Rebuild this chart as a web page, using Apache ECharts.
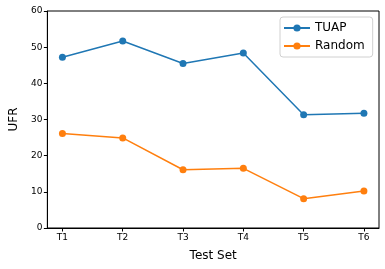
<!DOCTYPE html>
<html>
<head>
<meta charset="utf-8">
<script src="https://cdn.jsdelivr.net/npm/echarts@6/dist/echarts.min.js"></script>
<style>html,body{margin:0;padding:0;background:#fff;}#c{width:385px;height:269px;}</style>
</head>
<body>
<div id="c"></div>
<script>
const categories = ['T1', 'T2', 'T3', 'T4', 'T5', 'T6'];
const tuap = [47.2, 51.7, 45.5, 48.4, 31.3, 31.7];
const random = [26.1, 24.9, 16.1, 16.5, 8.1, 10.2];
const yTicks = [0, 10, 20, 30, 40, 50, 60];

const idx = categories.map((c, i) => i);
const toPairs = vals => vals.map((v, i) => [i, v]);
const font = 'DejaVu Sans';

const chart = echarts.init(document.getElementById('c'), null, {renderer: 'canvas'});
chart.setOption({
  animation: false,
  backgroundColor: '#fff',
  textStyle: {fontFamily: font},
  grid: {left: 44, right: 6, top: 11, bottom: 41, show: true, borderColor: '#000', borderWidth: 1, backgroundColor: 'transparent'},
  legend: {
    orient: 'vertical', left: 280, top: 17,
    itemWidth: 26, itemHeight: 9, itemGap: 6,
    padding: [5, 8, 5, 3],
    borderColor: '#d0d0d0', borderWidth: 1, borderRadius: 3,
    backgroundColor: '#fff',
    textStyle: {fontFamily: font, fontSize: 12, color: '#000'},
    data: ['TUAP', 'Random']
  },
  xAxis: {
    type: 'value', min: -0.25, max: 5.25,
    name: 'Test Set', nameLocation: 'middle', nameGap: 22,
    nameTextStyle: {fontFamily: font, fontSize: 12, color: '#000'},
    axisLine: {show: true, onZero: false, lineStyle: {color: '#000', width: 1}},
    axisTick: {show: true, customValues: idx, length: 3.5, lineStyle: {color: '#000'}},
    axisLabel: {customValues: idx, formatter: v => categories[Math.round(v)], fontFamily: font, fontSize: 9, color: '#000', margin: 5},
    splitLine: {show: false}
  },
  yAxis: {
    type: 'value', min: yTicks[0], max: yTicks[yTicks.length - 1], interval: 10,
    name: 'UFR', nameLocation: 'middle', nameGap: 26,
    nameTextStyle: {fontFamily: font, fontSize: 12, color: '#000'},
    axisLine: {show: true, onZero: false, lineStyle: {color: '#000', width: 1}},
    axisTick: {show: true, length: 3.5, lineStyle: {color: '#000'}},
    axisLabel: {fontFamily: font, fontSize: 9, color: '#000', margin: 5},
    splitLine: {show: false}
  },
  series: [
    {name: 'TUAP', type: 'line', data: toPairs(tuap), symbol: 'circle', symbolSize: 7,
     itemStyle: {color: '#1f77b4'}, lineStyle: {color: '#1f77b4', width: 1.5}},
    {name: 'Random', type: 'line', data: toPairs(random), symbol: 'circle', symbolSize: 7,
     itemStyle: {color: '#ff7f0e'}, lineStyle: {color: '#ff7f0e', width: 1.5}}
  ]
});
</script>
</body>
</html>
